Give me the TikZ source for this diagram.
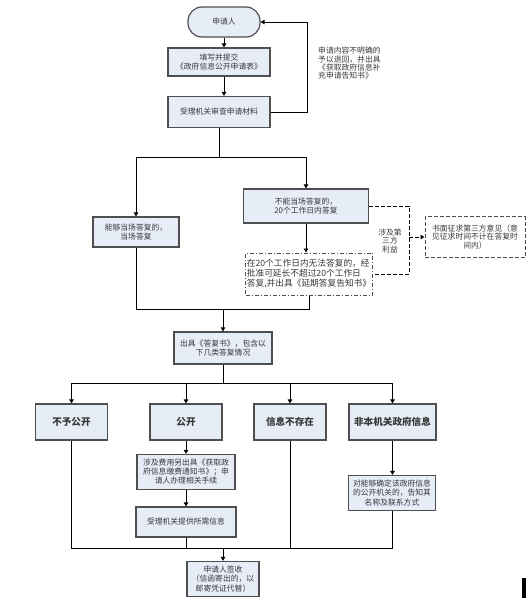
\documentclass[tikz,border=0pt]{standalone}
\usepackage{fontspec}
\setmainfont{Noto Sans CJK SC}
\usetikzlibrary{calc}
\usetikzlibrary{arrows.meta}

\definecolor{boxfill}{HTML}{E6EDF7}
\definecolor{boxline}{HTML}{4F4F4F}
\definecolor{txt}{HTML}{383838}

\begin{document}
\begin{tikzpicture}[x=1pt,y=-1pt,
  box/.style={draw=boxline,line width=1.2pt,fill=boxfill,text=txt,align=center,inner sep=1pt,
    font=\fontsize{7.8}{9.5}\selectfont},
  cat/.style={box,minimum height=36pt,font=\fontsize{9.6}{11}\selectfont\bfseries},
  note/.style={text=txt,inner sep=0pt,font=\fontsize{7.8}{8.3}\selectfont},
  arr/.style={-{Triangle[length=4pt,width=4.5pt]}},
  line/.style={line width=0.9pt}]

\useasboundingbox (0,0) rectangle (528,598);

\node[box,rounded corners=14pt,minimum width=72pt,minimum height=30pt] (apply) at (224,22) {申请人};
\node[box,minimum width=102pt,minimum height=28pt] (form) at (219,62) {填写并提交\\《政府信息公开申请表》};
\node[box,minimum width=102pt,minimum height=31pt] (check) at (219,112) {受理机关审查申请材料};
\node[note,align=left,anchor=north west] (back) at (318,47) {申请内容不明确的\\予以退回，并出具\\《获取政府信息补\\充申请告知书》};

\draw[line,arr] (apply.south) -- (apply.south |- form.north);
\draw[line,arr] (apply.south |- form.south) -- (apply.south |- check.north);
\draw[line,arr] (check.east) -- ++(37,0) |- (apply.east);

% two ways to answer
\node[box,minimum width=86pt,minimum height=30pt] (now) at (136,232) {能够当场答复的，\\当场答复};
\node[box,minimum width=125pt,minimum height=34pt] (later) at (306,206) {不能当场答复的，\\20个工作日内答复};
\node[box,fill=white,line width=1pt,dash pattern=on 4pt off 2pt on 1pt off 2pt,align=left,
  minimum width=127pt,minimum height=42pt,font=\fontsize{8.7}{10}\selectfont] (delay) at (309,274)
  {在20个工作日内无法答复的，经\\批准可延长不超过20个工作日\\答复,并出具《延期答复告知书》};
\node[box,fill=white,line width=1pt,dash pattern=on 4pt off 2pt,minimum width=100pt,minimum height=41pt,
  font=\fontsize{7.8}{8.3}\selectfont] (third) at (475,237) {书面征求第三方意见（意\\见征求时间不计在答复时\\间内）};
\node[note,align=center] (party) at (390,241) {涉及第\\三方\\利益};

\coordinate (split) at (check.south |- 0,157);
\coordinate (side) at (409,237);
\draw[line,arr] (check.south) -- (split) -| (now.north);
\draw[line,arr] (split) -| (later.north);
\draw[line,arr] (later.south) -- (later.south |- delay.north);
\draw[line,dash pattern=on 4pt off 2pt] (later.east) -| (side) |- (delay.east);
\draw[line,dash pattern=on 4pt off 2pt,arr] (side) -- (third.west);

% reply
\node[box,minimum width=98pt,minimum height=32pt] (answer) at (223,348) {出具《答复书》，包含以\\下几类答复情况};
\coordinate (join) at (223,309);
\draw[line] (now.south) |- (join);
\draw[line] (delay.south) |- (join);
\draw[line,arr] (join) -- (answer.north);

\foreach \x/\w/\nm/\txt in {71.5/72/deny/不予公开, 186/72/open/公开, 290/72/absent/信息不存在, 392.5/87/other/非本机关政府信息}
  \node[cat,minimum width=\w pt] (\nm) at (\x,422) {\txt};

\coordinate (fan) at (223,383);
\draw[line] (answer.south) -- (fan);
\draw[line] (deny.north |- fan) -- (other.north |- fan);
\foreach \nm in {deny,open,absent,other}
  \draw[line,arr] (\nm.north |- fan) -- (\nm.north);

\node[box,minimum width=98pt,minimum height=35pt,font=\fontsize{7.8}{9}\selectfont] (fee) at (186,472) {涉及费用另出具《获取政\\府信息缴费通知书》；申\\请人办理相关手续};
\node[box,minimum width=100pt,minimum height=30pt] (provide) at (186,522) {受理机关提供所需信息};
\node[box,minimum width=87pt,minimum height=35pt,font=\fontsize{7.8}{9.5}\selectfont] (refer) at (392,493) {对能够确定该政府信息\\的公开机关的，告知其\\名称及联系方式};
\draw[line,arr] (open.south) -- (fee.north);
\draw[line,arr] (fee.south) -- (provide.north);
\draw[line,arr] (other.south) -- (other.south |- refer.north);

% sign
\node[box,minimum width=72pt,minimum height=35pt,font=\fontsize{7.8}{9.5}\selectfont] (sign) at (223,579) {申请人签收\\（信函寄出的，以\\邮寄凭证代替）};
\coordinate (merge) at (223,548);
\draw[line] (deny.south) -- (deny.south |- merge) -- (refer.south |- merge) -- (refer.south);
\draw[line] (provide.south) -- (provide.south |- merge);
\draw[line] (absent.south) -- (absent.south |- merge);
\draw[line,arr] (merge) -- (sign.north);

\fill (522,578) rectangle (526,598);
\end{tikzpicture}
\end{document}
